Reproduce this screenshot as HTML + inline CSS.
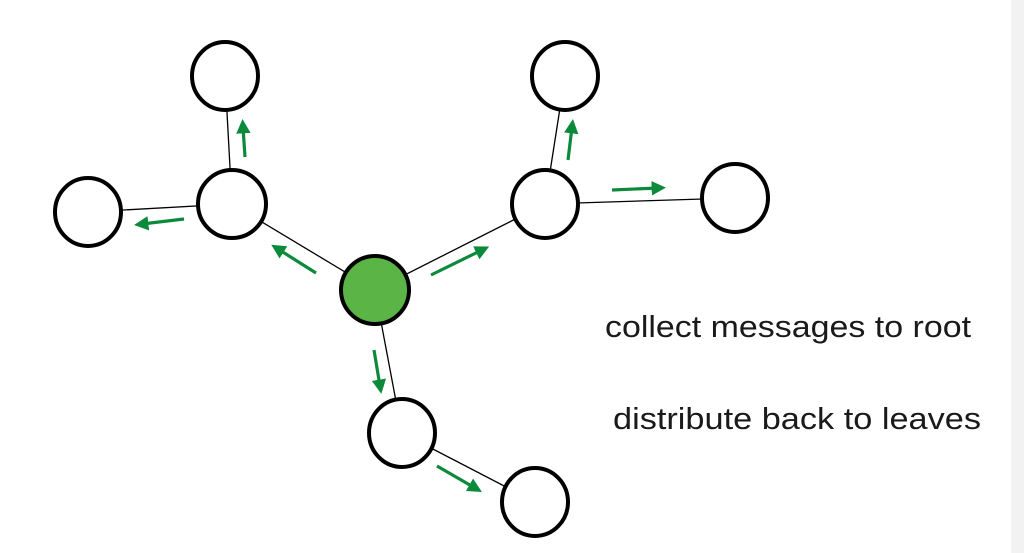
<!DOCTYPE html>
<html><head><meta charset="utf-8"><style>
html,body{margin:0;padding:0;background:#fff;}
body{width:1024px;height:553px;overflow:hidden;position:relative;}
.strip{position:absolute;left:1011px;top:0;width:13px;height:553px;background:#f2f2f2;}
</style></head><body>
<svg width="1024" height="553" viewBox="0 0 1024 553" style="position:absolute;left:0;top:0">
<defs><marker id="a" markerWidth="4.5" markerHeight="4.5" refX="2" refY="2.25" orient="auto" markerUnits="strokeWidth"><path d="M0,0 L4.5,2.25 L0,4.5 z" fill="#0b8a3b"/></marker></defs>
<g stroke="#000" stroke-width="1.3">
<line x1="225" y1="76" x2="232" y2="204"/>
<line x1="88" y1="212" x2="232" y2="204"/>
<line x1="232" y1="204" x2="375" y2="290"/>
<line x1="375" y1="290" x2="545" y2="204"/>
<line x1="545" y1="204" x2="565" y2="76"/>
<line x1="545" y1="204" x2="735" y2="198"/>
<line x1="375" y1="290" x2="402" y2="433"/>
<line x1="402" y1="433" x2="535" y2="502"/>
</g>
<g stroke="#0b8a3b" stroke-width="3.2" marker-end="url(#a)">
<line x1="245" y1="157" x2="243" y2="127"/>
<line x1="184" y1="219" x2="142" y2="224"/>
<line x1="316" y1="273" x2="278" y2="249"/>
<line x1="431" y1="275" x2="482" y2="250"/>
<line x1="568" y1="160" x2="572" y2="127"/>
<line x1="612" y1="190" x2="658" y2="188"/>
<line x1="374" y1="350" x2="380" y2="386"/>
<line x1="437" y1="466" x2="475" y2="488"/>
</g>
<g stroke="#000" stroke-width="4" fill="#fff">
<ellipse cx="225" cy="76" rx="33" ry="34"/>
<ellipse cx="88" cy="212" rx="33" ry="34"/>
<ellipse cx="232" cy="204" rx="34" ry="34"/>
<ellipse cx="375" cy="290" rx="34" ry="34" fill="#5ab546"/>
<ellipse cx="545" cy="204" rx="33" ry="34"/>
<ellipse cx="565" cy="76" rx="33" ry="34"/>
<ellipse cx="735" cy="198" rx="33" ry="34"/>
<ellipse cx="402" cy="433" rx="33" ry="34"/>
<ellipse cx="535" cy="502" rx="33" ry="34"/>
</g>
<g font-family="Liberation Sans, sans-serif" font-size="31" fill="#1a1a1a">
<text x="605" y="337" textLength="366" lengthAdjust="spacingAndGlyphs">collect messages to root</text>
<text x="613" y="429" textLength="368" lengthAdjust="spacingAndGlyphs">distribute back to leaves</text>
</g>
</svg>
<div class="strip"></div>
</body></html>
